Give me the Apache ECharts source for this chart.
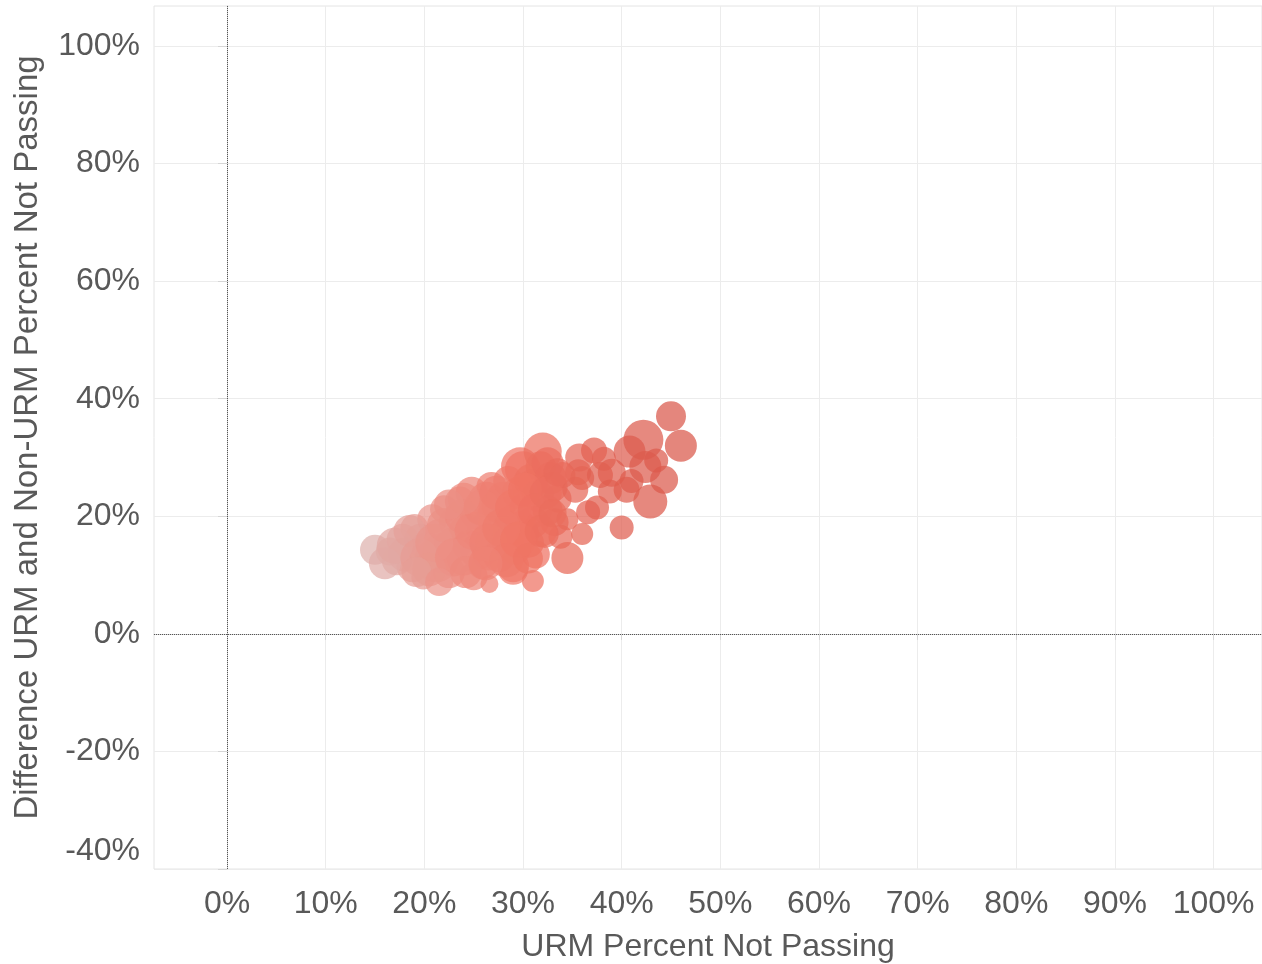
<!DOCTYPE html>
<html>
<head>
<meta charset="utf-8">
<script src="https://cdn.jsdelivr.net/npm/echarts@6/dist/echarts.min.js"></script>
<style>html,body{margin:0;padding:0;background:#fff}#c{width:1262px;height:964px}</style>
</head>
<body>
<div id="c"></div>
<script>
// URM Percent Not Passing (x, %), Difference URM vs Non-URM (y, %), size measure
const xValues = [
  15.0,16.5,17.2,17.8,18.0,18.8,19.0,19.6,19.9,20.2,20.8,21.2,21.5,21.8,22.0,22.5,22.8,23.2,23.6,24.0,
  24.4,24.5,24.8,25.0,25.2,25.5,25.9,26.0,26.3,26.5,26.8,27.0,27.2,27.5,27.6,28.0,28.2,28.5,28.5,28.8,
  29.0,29.0,29.2,29.5,29.7,29.8,30.0,30.0,30.3,30.6,30.8,31.0,31.0,31.3,31.5,31.8,32.0,32.2,32.5,32.5,
  32.8,33.0,33.2,33.5,33.8,34.0,34.5,26.6,31.0,34.5,36.0,36.6,40.0,42.9,44.3,40.5,38.8,37.5,35.3,35.6,
  36.0,37.8,39.0,41.0,38.2,35.7,37.2,40.8,42.4,43.5,42.2,45.0,46.0,
  16.0,17.0,18.5,19.5,20.5,21.0,22.0,23.0,23.8,24.2,25.0,25.8,26.5,27.3,27.8,28.3,29.0,29.5,30.2,30.5,
  31.2,31.8,32.3,33.0,33.5,24.0,22.5,26.2,19.2,21.5
];
const yValues = [
  14.3,14.0,12.5,16.0,13.5,11.5,18.0,16.0, 9.6,14.2,19.5,12.5,16.8,13.8,21.2,10.5,15.0,19.0,22.5,12.8,
  17.2,15.0,24.0, 9.8,20.5,14.0,11.8,17.5,22.8,13.5,25.0,15.5,19.8,21.8,13.2,23.0,17.0,26.0,15.5,20.5,
  11.5,10.9,14.5,24.0,28.5,18.0,28.0,17.0,21.5,15.5,26.0,19.0,25.5,13.5,23.5,28.5,31.0,17.0,21.0,29.0,
  26.5,25.0,19.0,23.0,16.5,27.0,19.5, 8.5, 9.0,12.9,17.0,20.7,18.1,22.5,26.2,24.5,24.2,21.5,24.5,27.5,
  26.5,27.0,27.4,26.0,29.8,30.0,31.2,31.0,28.4,29.5,33.0,37.0,32.0,
  12.0,15.0,17.5,13.0,11.0,15.5,18.5,13.0,20.0,10.5,17.5,21.5,15.5,24.0,18.0,12.5,21.5,16.0,24.5,12.8,
  21.0,17.5,24.0,20.5,27.5,23.0,22.0,12.0,10.5,8.8
];
const sizeValues = [
  225,196,225,256,289,256,196,256,144,324,225,484,256,400,196,256,324,289,225,289,
  361,256,256,196,256,324,225,289,324,256,225,324,361,289,256,289,256,225,256,324,
  256,225,256,256,361,289,324,256,256,225,289,256,225,196,256,225,361,196,225,256,
  256,225,196,196,144,169,121, 81,121,256,121,144,144,289,196,169,144,144,169,169,
  144,169,196,144,144,196,169,256,256,144,400,225,256,
  256,324,256,361,289,361,289,361,289,256,361,324,361,289,361,289,324,324,289,225,
  289,256,256,196,196,256,225,289,225,196
];
const xTicks = [0,10,20,30,40,50,60,70,80,90,100];
const yTicks = [-40,-20,0,20,40,60,80,100];

const points = xValues.map((x, i) => [x, yValues[i], sizeValues[i]]);

const txt = '#595959';
const font = 'Liberation Sans, Arial, sans-serif';
const chart = echarts.init(document.getElementById('c'), null, {renderer: 'canvas'});
chart.setOption({
  animation: false,
  backgroundColor: '#fff',
  grid: {left: 154, right: 0, top: 6, bottom: 95, show: true, borderColor: '#e4e4e4', borderWidth: 1,
         containLabel: false, outerBoundsMode: 'none'},
  visualMap: {
    show: false, type: 'continuous', dimension: 0, min: 14, max: 46,
    inRange: {color: ['#dcb5b3', '#ec9186', '#f07565', '#e15f50', '#d9574a']}
  },
  xAxis: {
    type: 'value', min: -7.4, max: 104.9,
    name: 'URM Percent Not Passing', nameLocation: 'middle', nameGap: 62,
    nameTextStyle: {color: txt, fontSize: 32, fontFamily: font},
    axisLine: {show: true, lineStyle: {color: '#d6d6d6'}},
    axisTick: {show: true, length: 6, customValues: xTicks, lineStyle: {color: '#d6d6d6'}},
    axisLabel: {customValues: xTicks, formatter: v => v + '%', color: txt, fontSize: 32, fontFamily: font, margin: 19},
    splitLine: {show: true, lineStyle: {color: '#ececec', width: 1}}
  },
  yAxis: {
    type: 'value', min: -40, max: 106.8,
    name: 'Difference URM and Non-URM Percent Not Passing', nameLocation: 'middle', nameGap: 110,
    nameTextStyle: {color: txt, fontSize: 33, fontFamily: font},
    axisLine: {show: true, lineStyle: {color: '#d6d6d6'}},
    axisTick: {show: true, length: 9, customValues: yTicks, lineStyle: {color: '#d6d6d6'}},
    axisLabel: {
      customValues: yTicks,
      formatter: v => v === -40 ? '{lo|-40%}' : v + '%',
      color: txt, fontSize: 32, fontFamily: font, margin: 14,
      rich: {lo: {color: txt, fontSize: 32, fontFamily: font, padding: [0, 0, 36, 0]}}
    },
    splitLine: {show: true, lineStyle: {color: '#ececec', width: 1}}
  },
  series: [{
    type: 'scatter',
    data: points,
    symbolSize: v => Math.sqrt(v[2]) * 2,
    itemStyle: {opacity: 0.72},
    markLine: {
      silent: true, symbol: 'none', label: {show: false},
      lineStyle: {color: '#555', type: 'dotted', width: 1},
      data: [{xAxis: 0}, {yAxis: 0}]
    }
  }]
});
</script>
</body>
</html>
